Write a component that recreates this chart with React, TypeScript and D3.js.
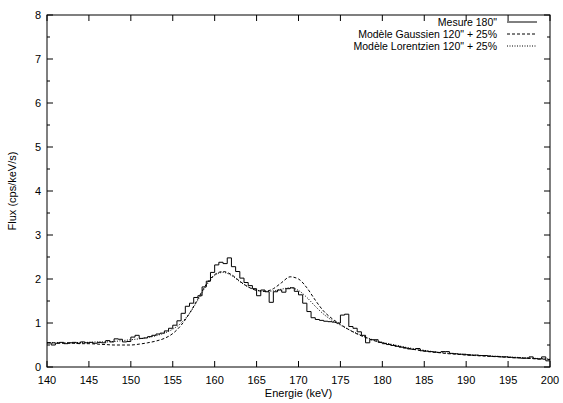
import React from "react";
import * as d3 from "d3";

const xTicks = [140, 145, 150, 155, 160, 165, 170, 175, 180, 185, 190, 195, 200];
const yTicks = [0, 1, 2, 3, 4, 5, 6, 7, 8];
const legendLabels = ['Mesure 180"', 'Modèle Gaussien 120" + 25%', 'Modèle Lorentzien 120" + 25%'];

// Measured histogram: 0.5 keV bins starting at 140 keV
const binStart = 140;
const binWidth = 0.5;
const measured = [
  0.55, 0.50, 0.54, 0.56, 0.53, 0.55, 0.56, 0.54, 0.57, 0.55,
  0.56, 0.54, 0.56, 0.55, 0.60, 0.57, 0.64, 0.63, 0.57, 0.58,
  0.68, 0.72, 0.65, 0.66, 0.69, 0.72, 0.75, 0.77, 0.82, 0.88,
  0.95, 1.05, 1.22, 1.38, 1.45, 1.58, 1.62, 1.82, 1.95, 2.15,
  2.32, 2.38, 2.35, 2.48, 2.28, 2.17, 2.02, 1.92, 1.85, 1.78,
  1.62, 1.75, 1.71, 1.47, 1.71, 1.75, 1.70, 1.78, 1.80, 1.72,
  1.64, 1.45, 1.26, 1.12, 1.08, 1.06, 1.04, 1.03, 1.02, 1.00,
  1.18, 1.20, 0.92, 0.88, 0.80, 0.72, 0.55, 0.62, 0.62, 0.56,
  0.53, 0.51, 0.49, 0.47, 0.45, 0.43, 0.41, 0.40, 0.42, 0.37,
  0.36, 0.35, 0.34, 0.33, 0.35, 0.35, 0.31, 0.30, 0.29, 0.29,
  0.28, 0.27, 0.27, 0.26, 0.26, 0.25, 0.24, 0.24, 0.23, 0.23,
  0.22, 0.21, 0.21, 0.20, 0.20, 0.23, 0.19, 0.18, 0.23, 0.14,
];

// Model curves sampled every 1 keV from 140 to 200
const modelEnergy = d3.range(140, 201, 1);
const gaussian = [
  0.55, 0.55, 0.54, 0.54, 0.53, 0.53, 0.52, 0.51, 0.50, 0.50,
  0.50, 0.52, 0.55, 0.59, 0.65, 0.76, 0.95, 1.22, 1.55, 1.88,
  2.10, 2.17, 2.10, 1.95, 1.82, 1.74, 1.72, 1.78, 1.92, 2.05,
  2.00, 1.80, 1.52, 1.27, 1.10, 0.97, 0.85, 0.75, 0.67, 0.60,
  0.55, 0.51, 0.47, 0.43, 0.39, 0.36, 0.34, 0.32, 0.30, 0.29,
  0.27, 0.26, 0.25, 0.24, 0.23, 0.22, 0.21, 0.20, 0.19, 0.18,
  0.17,
];
const lorentzian = [
  0.55, 0.55, 0.55, 0.55, 0.56, 0.56, 0.57, 0.57, 0.58, 0.60,
  0.62, 0.64, 0.67, 0.71, 0.77, 0.86, 1.00, 1.22, 1.52, 1.85,
  2.08, 2.15, 2.08, 1.94, 1.82, 1.75, 1.72, 1.73, 1.77, 1.80,
  1.74, 1.58, 1.38, 1.20, 1.06, 0.95, 0.85, 0.76, 0.68, 0.61,
  0.56, 0.52, 0.48, 0.44, 0.41, 0.38, 0.35, 0.33, 0.31, 0.30,
  0.28, 0.27, 0.26, 0.25, 0.24, 0.23, 0.22, 0.21, 0.20, 0.19,
  0.18,
];

const W = 563;
const H = 403;
const M = { left: 47, right: 550, top: 15, bottom: 367 };
const FONT = "'Liberation Sans', Arial, Helvetica, sans-serif";

export default function App() {
  const x = d3.scaleLinear().domain([140, 200]).range([M.left, M.right]);
  const y = d3.scaleLinear().domain([0, 8]).range([M.bottom, M.top]);

  const histPts: [number, number][] = measured.map((v, i) => [binStart + i * binWidth, v]);
  histPts.push([binStart + measured.length * binWidth, measured[measured.length - 1]]);
  const stepLine = d3
    .line<[number, number]>()
    .x((d) => x(d[0]))
    .y((d) => y(d[1]))
    .curve(d3.curveStepAfter);

  const smooth = d3
    .line<number>()
    .x((_, i) => x(modelEnergy[i]))
    .y((d) => y(d))
    .curve(d3.curveMonotoneX);

  const yMinor = d3.range(0.5, 8, 1);
  const majorLen = 6;
  const minorLen = 3;

  const legendX = 497;
  const legendY = [22, 34, 46];
  const dashes = [null, "3,2", "1,1.5"];

  return (
    <svg width={W} height={H} style={{ display: "block", position: "absolute", left: 0, top: 0 }}>
      <rect x={0} y={0} width={W} height={H} fill="#fff" />
      <defs>
        <clipPath id="plot">
          <rect x={M.left} y={M.top} width={M.right - M.left} height={M.bottom - M.top} />
        </clipPath>
      </defs>
      {/* ticks */}
      <g stroke="#000" strokeWidth={1}>
        {xTicks.map((t) => (
          <g key={"xt" + t}>
            <line x1={x(t)} x2={x(t)} y1={M.bottom} y2={M.bottom - majorLen} />
            <line x1={x(t)} x2={x(t)} y1={M.top} y2={M.top + majorLen} />
          </g>
        ))}
        {yTicks.map((t) => (
          <g key={"yt" + t}>
            <line x1={M.left} x2={M.left + majorLen} y1={y(t)} y2={y(t)} />
            <line x1={M.right} x2={M.right - majorLen} y1={y(t)} y2={y(t)} />
          </g>
        ))}
        {yMinor.map((t) => (
          <g key={"ym" + t}>
            <line x1={M.left} x2={M.left + minorLen} y1={y(t)} y2={y(t)} />
            <line x1={M.right} x2={M.right - minorLen} y1={y(t)} y2={y(t)} />
          </g>
        ))}
      </g>
      <g fontFamily={FONT} fontSize={11} fill="#000">
        {xTicks.map((t) => (
          <text key={"xl" + t} x={x(t)} y={M.bottom + 17} textAnchor="middle">
            {t}
          </text>
        ))}
        {yTicks.map((t) => (
          <text key={"yl" + t} x={M.left - 6} y={y(t) + 4} textAnchor="end">
            {t}
          </text>
        ))}
        <text x={(M.left + M.right) / 2} y={M.bottom + 30} textAnchor="middle">
          Energie (keV)
        </text>
        <text
          transform={`translate(${16},${(M.top + M.bottom) / 2}) rotate(-90)`}
          textAnchor="middle"
        >
          Flux (cps/keV/s)
        </text>
      </g>
      <g clipPath="url(#plot)" fill="none" stroke="#000" strokeWidth={1}>
        <path d={stepLine(histPts) || ""} />
        <path d={smooth(gaussian) || ""} strokeDasharray="3,2" />
        <path d={smooth(lorentzian) || ""} strokeDasharray="1,1.5" />
      </g>
      {/* legend */}
      <g fontFamily={FONT} fontSize={10.5}>
        {legendLabels.map((lab, i) => (
          <g key={lab}>
            <text x={legendX} y={legendY[i] + 3.5} textAnchor="end" fill="#000">
              {lab}
            </text>
            <line
              x1={legendX + 10}
              x2={legendX + 40}
              y1={legendY[i]}
              y2={legendY[i]}
              stroke="#000"
              strokeWidth={1}
              strokeDasharray={dashes[i] || undefined}
            />
          </g>
        ))}
      </g>
      <rect
        x={M.left}
        y={M.top}
        width={M.right - M.left}
        height={M.bottom - M.top}
        fill="none"
        stroke="#000"
        strokeWidth={1}
      />
    </svg>
  );
}
